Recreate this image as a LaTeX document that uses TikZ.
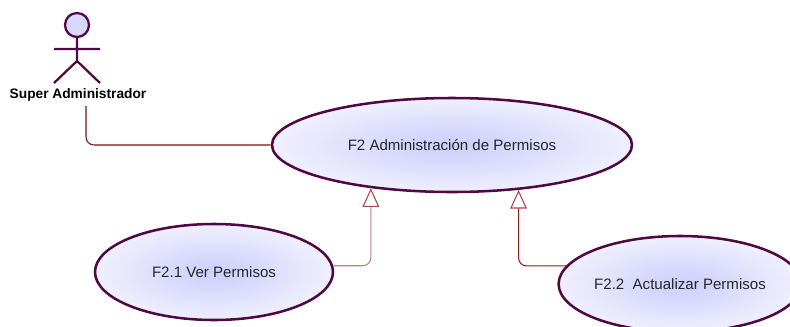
\documentclass[tikz,border=0pt]{standalone}
\usepackage{fontspec}
\setmainfont{Liberation Sans}
\usepackage{tikz}
\usetikzlibrary{positioning,shapes.geometric,arrows.meta}
\definecolor{ucborder}{RGB}{80,8,68}
\definecolor{ucfill}{RGB}{206,206,252}
\definecolor{assocline}{RGB}{128,16,16}
\definecolor{genline}{RGB}{196,128,128}
\definecolor{genlinedark}{RGB}{150,30,30}
\definecolor{gentip}{RGB}{176,72,72}
\pgfdeclareradialshading{ucshade}{\pgfpointorigin}{color(0bp)=(ucfill); color(10bp)=(ucfill!75!white); color(34bp)=(white!95!ucfill); color(50bp)=(white!97!ucfill)}

\begin{document}
\begin{tikzpicture}[x=0.75pt,y=0.75pt,yscale=-1,xscale=1,
  usecase/.style={draw=ucborder,line width=1.9pt,ellipse,inner sep=0pt,shading=ucshade,text=black!85,font=\fontsize{11.3}{13}\selectfont},
  actorline/.style={draw=ucborder,line width=1.7pt},
  assoc/.style={draw=assocline,line width=0.8pt,rounded corners=6pt},
  gen/.style={line width=0.8pt,rounded corners=6pt,-{Triangle[open,length=14pt,width=12.5pt,color=gentip]}}]
\useasboundingbox (0,0) rectangle (790,326);

%Actor
\draw[actorline,fill=ucfill!80!white] (77,25) circle [radius=12];
\draw[actorline] (77,37) -- (77,61) (54,49) -- (100,49) (77,61) -- (54,83) (77,61) -- (100,83);
\node[font=\bfseries\fontsize{10.3}{12}\selectfont] (superadmin) at (78,95) {Super Administrador};

%Use cases
\node[usecase,minimum width=270pt,minimum height=70.5pt] (admpermisos) at (452,145) {F2 Administración de Permisos};
\node[usecase,minimum width=178.5pt,minimum height=72pt] (verpermisos) at (214,272) {F2.1 Ver Permisos};
\node[usecase,minimum width=172.5pt,minimum height=72pt] (actpermisos) at (680,284) {F2.2\ \ Actualizar Permisos};

%Connectors
\coordinate (superadmin end) at (86,106);
\draw[assoc] (superadmin end) |- (admpermisos.west);
\draw[gen,draw=genline] (verpermisos.3) -| (admpermisos.208.5);
\draw[gen,draw=genlinedark] (actpermisos.171.6) -| (admpermisos.326);

\end{tikzpicture}
\end{document}
